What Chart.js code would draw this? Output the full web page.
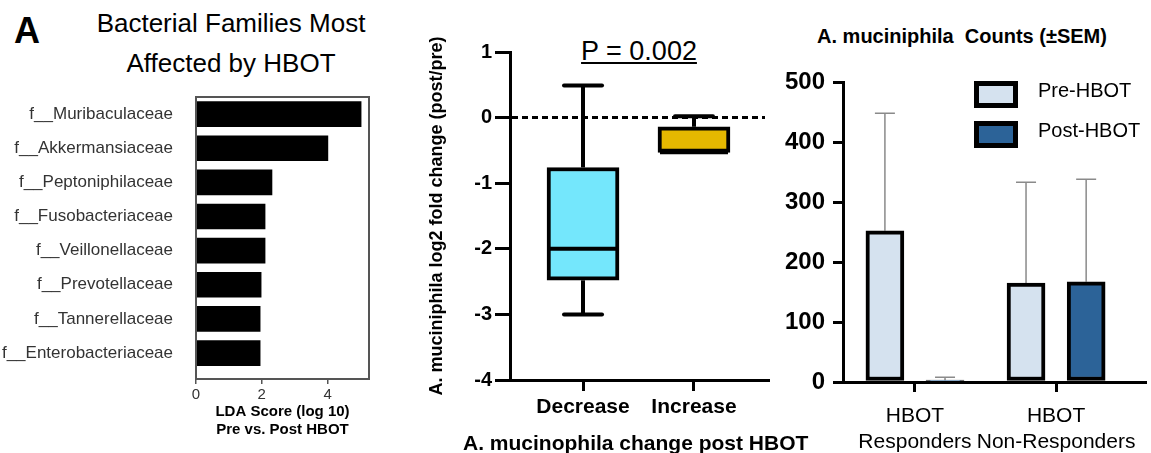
<!DOCTYPE html>
<html><head><meta charset="utf-8">
<script src="https://cdn.jsdelivr.net/npm/chart.js@4"></script>
<style>
body{margin:0;background:#fff;}
#fig{position:relative;width:1151px;height:453px;overflow:hidden;background:#fff;font-family:'Liberation Sans',Arial,sans-serif;}
.box{position:absolute;}
.txt{position:absolute;color:#000;white-space:nowrap;}
</style></head><body>
<div id="fig">
 <div class="txt" style="left:14px;top:13px;font-size:36px;line-height:36px;font-weight:bold;">A</div>
 <div class="txt" style="left:31px;top:3px;width:400px;text-align:center;font-size:26px;line-height:40px;">Bacterial Families Most<br>Affected by HBOT</div>
 <div class="txt" style="left:539px;top:36px;width:200px;text-align:center;font-size:27px;line-height:30px;"><span style="text-decoration:underline;text-decoration-thickness:2px;text-underline-offset:2px;">P = 0.002</span></div>
 <div class="txt" style="left:762px;top:24px;width:400px;text-align:center;font-size:20px;font-weight:bold;line-height:24px;">A. muciniphila&nbsp; Counts (±SEM)</div>
 <div class="box" style="left:0;top:90px;width:400px;height:363px;"><canvas id="c1"></canvas></div>
 <div class="box" style="left:400px;top:0;width:380px;height:453px;"><canvas id="c2"></canvas></div>
 <div class="box" style="left:770px;top:0;width:381px;height:453px;"><canvas id="c3"></canvas></div>
 <div class="txt" style="left:463px;top:431px;font-size:21px;font-weight:bold;line-height:24px;">A. mucinophila change post HBOT</div>
</div>
<script>
// ---- Panel 1: families most affected ----
const families = ['f__Muribaculaceae','f__Akkermansiaceae','f__Peptoniphilaceae','f__Fusobacteriaceae','f__Veillonellaceae','f__Prevotellaceae','f__Tannerellaceae','f__Enterobacteriaceae'];
const familyScores = [5.02, 4.01, 2.31, 2.10, 2.10, 1.98, 1.95, 1.95];
const scoreTicks = [0, 2, 4];
const scoreTitle = ['LDA Score (log 10)', 'Pre vs. Post HBOT'];

// ---- Panel 2: box plot of change ----
const changeGroups = ['Decrease', 'Increase'];
const boxMin = [-3.0, -0.53];
const boxQ1 = [-2.48, -0.53];
const boxMedian = [-2.0, -0.53];
const boxQ3 = [-0.76, -0.14];
const boxMax = [0.49, 0.02];
const foldTicks = [1, 0, -1, -2, -3, -4];

// ---- Panel 3: counts ----
const responderGroups = [['HBOT', 'Responders'], ['HBOT', 'Non-Responders']];
const seriesNames = ['Pre-HBOT', 'Post-HBOT'];
const preMean = [252, 165];
const preSEM = [196, 168];
const postMean = [3, 167];
const postSEM = [5, 171];
const countTicks = [0, 100, 200, 300, 400, 500];

Chart.defaults.font.family = "'Liberation Sans', Arial, sans-serif";
Chart.defaults.color = '#000';
Chart.defaults.animation = false;

const fixW = w => s => { s.width = w; s.paddingTop = 0; s.paddingBottom = 0; };
const fixH = h => s => { s.height = h; s.paddingLeft = 0; s.paddingRight = 0; };
const setTicks = vals => s => { s.ticks = vals.map(v => ({ value: v })); };
const idxTicks = n => s => { s.ticks = Array.from({ length: n }, (_, i) => ({ value: i })); };

const baseOpts = {
  responsive: true, maintainAspectRatio: false, devicePixelRatio: 1,
  plugins: { legend: { display: false }, tooltip: { enabled: false } }
};

// frame plugin for panel 1
const framePlugin = {
  id: 'frame',
  afterDraw(chart) {
    const { ctx, chartArea: a } = chart;
    ctx.save();
    ctx.strokeStyle = '#555';
    ctx.lineWidth = 2;
    ctx.strokeRect(a.left, a.top, a.right - a.left, a.bottom - a.top);
    ctx.restore();
  }
};

new Chart(document.getElementById('c1'), {
  type: 'bar',
  data: {
    datasets: [{
      data: families.map((f, i) => ({ x: familyScores[i], y: i })),
      backgroundColor: '#000', borderWidth: 0, barThickness: 25
    }]
  },
  options: Object.assign({}, baseOpts, {
    indexAxis: 'y',
    layout: { padding: { top: 7, right: 31, bottom: 0, left: 0 } },
    scales: {
      x: {
        type: 'linear', min: 0, max: 5.26, offset: false,
        afterBuildTicks: setTicks(scoreTicks), afterFit: fixH(74),
        grid: { display: true, offset: false, drawOnChartArea: false, tickLength: 5, color: '#555', lineWidth: 1.5 },
        border: { display: false },
        ticks: { font: { size: 15 }, color: '#333', padding: 2, maxRotation: 0 },
        title: { display: true, text: scoreTitle, font: { size: 15, weight: 'bold', lineHeight: '18px' }, padding: { top: 0, bottom: 14 } }
      },
      y: {
        type: 'linear', reverse: true, min: -0.5, max: 7.76, offset: false,
        afterBuildTicks: idxTicks(families.length), afterFit: fixW(196),
        ticks: { callback: v => families[v], font: { size: 17 }, color: '#333', padding: 15, autoSkip: false },
        grid: { display: false, offset: false }, border: { display: false }
      }
    }
  }),
  plugins: [framePlugin]
});

// box plot whiskers, medians, zero line
const boxPlugin = {
  id: 'boxw',
  afterDatasetsDraw(chart) {
    const { ctx, scales: { x, y } } = chart;
    const line = (x1, y1, x2, y2) => { ctx.beginPath(); ctx.moveTo(x1, y1); ctx.lineTo(x2, y2); ctx.stroke(); };
    ctx.save();
    ctx.strokeStyle = '#000';
    changeGroups.forEach((g, i) => {
      const cx = x.getPixelForValue(i);
      ctx.lineWidth = 4; ctx.lineCap = 'butt';
      if (boxMax[i] !== boxQ3[i]) {
        line(cx, y.getPixelForValue(boxQ3[i]), cx, y.getPixelForValue(boxMax[i]));
        ctx.lineCap = 'round';
        line(cx - 19, y.getPixelForValue(boxMax[i]), cx + 19, y.getPixelForValue(boxMax[i]));
        ctx.lineCap = 'butt';
      }
      if (boxMin[i] !== boxQ1[i]) {
        line(cx, y.getPixelForValue(boxQ1[i]), cx, y.getPixelForValue(boxMin[i]));
        ctx.lineCap = 'round';
        line(cx - 19, y.getPixelForValue(boxMin[i]), cx + 19, y.getPixelForValue(boxMin[i]));
        ctx.lineCap = 'butt';
      }
      line(cx - 34, y.getPixelForValue(boxMedian[i]), cx + 34, y.getPixelForValue(boxMedian[i]));
    });
    const y0 = y.getPixelForValue(0);
    ctx.lineWidth = 3;
    ctx.setLineDash([6, 4]);
    line(x.left + 2, y0, x.right - 3, y0);
    ctx.restore();
  }
};

new Chart(document.getElementById('c2'), {
  type: 'bar',
  data: {
    datasets: [{
      data: changeGroups.map((g, i) => ({ x: i, y: [boxQ1[i], boxQ3[i]] })),
      backgroundColor: ['#74E7FC', '#E5B800'],
      borderColor: '#000', borderWidth: 4, borderSkipped: false, barThickness: 72
    }]
  },
  options: Object.assign({}, baseOpts, {
    layout: { padding: { top: 52, right: 12, bottom: 0, left: 22 } },
    scales: {
      x: {
        type: 'linear', min: -0.658, max: 1.667, offset: false,
        afterBuildTicks: idxTicks(changeGroups.length), afterFit: fixH(73),
        ticks: { callback: v => changeGroups[v], font: { size: 21, weight: 'bold' }, padding: 4, maxRotation: 0, autoSkip: false },
        grid: { display: true, offset: false, drawOnChartArea: false, tickLength: 11, lineWidth: 3, color: '#000' },
        border: { color: '#000', width: 3 }
      },
      y: {
        type: 'linear', min: -4, max: 1,
        afterBuildTicks: setTicks(foldTicks), afterFit: fixW(88),
        ticks: { font: { size: 20, weight: 'bold' }, padding: 3 },
        grid: { display: true, drawOnChartArea: false, tickLength: 15, lineWidth: 3, color: '#000' },
        border: { color: '#000', width: 3 },
        title: { display: true, text: 'A. muciniphila log2 fold change (post/pre)', font: { size: 18, weight: 'bold' }, padding: { top: 4, bottom: 4 } }
      }
    }
  }),
  plugins: [boxPlugin]
});

// error bars + legend for panel 3
const sems = [preSEM, postSEM];
const means = [preMean, postMean];
const errPlugin = {
  id: 'err',
  beforeDatasetsDraw(chart) {
    const { ctx, scales: { y } } = chart;
    ctx.save();
    ctx.strokeStyle = '#8a8a8a';
    ctx.lineWidth = 1.5;
    chart.data.datasets.forEach((ds, d) => {
      chart.getDatasetMeta(d).data.forEach((el, i) => {
        const yTop = y.getPixelForValue(means[d][i] + sems[d][i]);
        const yBase = y.getPixelForValue(means[d][i]);
        ctx.beginPath();
        ctx.moveTo(el.x, yBase); ctx.lineTo(el.x, yTop);
        ctx.moveTo(el.x - 10, yTop); ctx.lineTo(el.x + 10, yTop);
        ctx.stroke();
      });
    });
    ctx.restore();
  }
};
const legendPlugin = {
  id: 'lg',
  afterDraw(chart) {
    const { ctx } = chart;
    ctx.save();
    chart.data.datasets.forEach((ds, d) => {
      const bx = 204, by = 81 + d * 40, bw = 44, bh = 27;
      ctx.fillStyle = ds.backgroundColor;
      ctx.fillRect(bx, by, bw, bh);
      ctx.strokeStyle = '#000';
      ctx.lineWidth = 5;
      ctx.strokeRect(bx + 2.5, by + 2.5, bw - 5, bh - 5);
      ctx.fillStyle = '#000';
      ctx.font = "20px 'Liberation Sans', Arial, sans-serif";
      ctx.textBaseline = 'middle';
      ctx.fillText(ds.label, 268, by + 10);
    });
    ctx.restore();
  }
};

const groupOffset = 0.213;
new Chart(document.getElementById('c3'), {
  type: 'bar',
  data: {
    datasets: [
      { label: seriesNames[0], data: responderGroups.map((g, i) => ({ x: i - groupOffset, y: preMean[i] })), backgroundColor: '#D5E2EF' },
      { label: seriesNames[1], data: responderGroups.map((g, i) => ({ x: i + groupOffset, y: postMean[i] })), backgroundColor: '#2C6398' }
    ]
  },
  options: Object.assign({}, baseOpts, {
    datasets: { bar: { grouped: false, barThickness: 38, borderWidth: 4, borderColor: '#000', borderSkipped: false } },
    layout: { padding: { top: 82, right: 6, bottom: 0, left: 0 } },
    scales: {
      x: {
        type: 'linear', min: -0.51, max: 1.63, offset: false,
        afterBuildTicks: idxTicks(responderGroups.length), afterFit: fixH(71),
        ticks: { callback: v => responderGroups[v], font: { size: 21, lineHeight: 1.2 }, padding: 12, maxRotation: 0, autoSkip: false },
        grid: { display: true, offset: false, drawOnChartArea: false, tickLength: 10, lineWidth: 3, color: '#000' },
        border: { color: '#000', width: 3 }
      },
      y: {
        type: 'linear', min: 0, max: 500,
        afterBuildTicks: setTicks(countTicks), afterFit: fixW(73),
        ticks: { font: { size: 24, weight: 'bold' }, padding: 8 },
        grid: { display: true, drawOnChartArea: false, tickLength: 10, lineWidth: 3, color: '#000' },
        border: { color: '#000', width: 3 }
      }
    }
  }),
  plugins: [errPlugin, legendPlugin]
});
</script>
</body></html>
